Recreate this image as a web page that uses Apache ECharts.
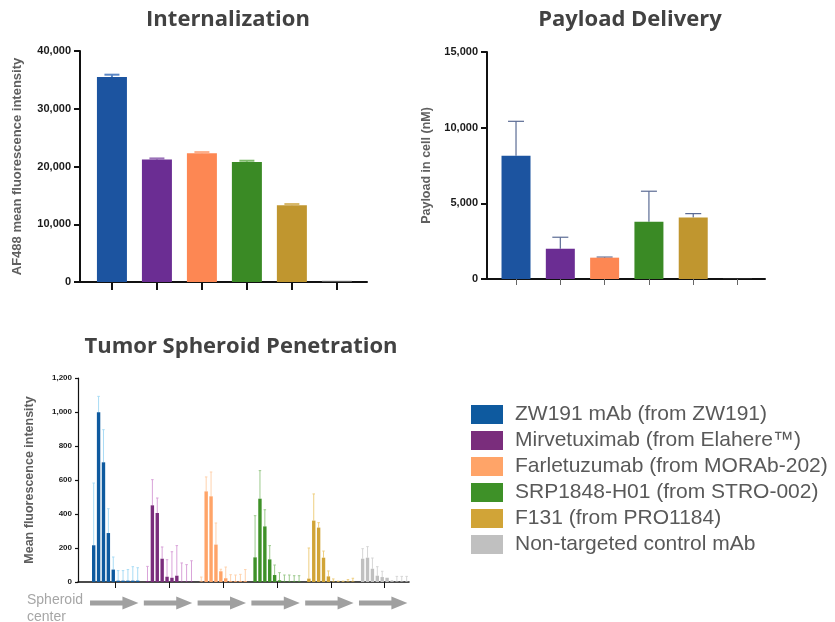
<!DOCTYPE html>
<html><head><meta charset="utf-8">
<script src="https://cdn.jsdelivr.net/npm/echarts@6/dist/echarts.min.js"></script>
<style>html,body{margin:0;padding:0;background:#fff}#c{width:835px;height:622px}</style>
</head><body><div id="c"></div>
<script>
// ---------- DATA ----------
const groups = ['ZW191 mAb (from ZW191)', 'Mirvetuximab (from Elahere\u2122)', 'Farletuzumab (from MORAb-202)', 'SRP1848-H01 (from STRO-002)', 'F131 (from PRO1184)', 'Non-targeted control mAb'];

const internalization    = [35500, 21200, 22300, 20800, 13300, 200];
const internalizationErr = [400, 200, 200, 200, 200, 0];
const internalizationTicks = [0, 10000, 20000, 30000, 40000];

const payload    = [8150, 2000, 1410, 3790, 4060, 20];
const payloadErr = [2270, 760, 40, 2010, 260, 0];
const payloadTicks = [0, 5000, 10000, 15000];

// Tumor spheroid penetration: 10 radial positions per antibody (center -> edge)
const spheroidZW191    = [216, 998, 704, 288, 73, 8, 8, 8, 8, 8];
const spheroidZW191Err = [366, 94, 192, 143, 74, 59, 59, 65, 82, 76];
const spheroidMirv     = [5, 451, 406, 137, 31, 25, 37, 3, 3, 3];
const spheroidMirvErr  = [87, 151, 88, 69, 100, 153, 177, 109, 99, 122];
const spheroidFarl     = [3, 533, 504, 220, 63, 22, 5, 5, 5, 5];
const spheroidFarlErr  = [26, 85, 143, 127, 12, 66, 38, 36, 40, 68];
const spheroidSRP      = [145, 490, 327, 133, 41, 10, 3, 3, 3, 3];
const spheroidSRPErr   = [245, 165, 98, 81, 59, 45, 38, 38, 34, 34];
const spheroidF131     = [20, 361, 320, 143, 33, 3, 2, 2, 3, 3];
const spheroidF131Err  = [180, 157, 29, 39, 32, 15, 3, 3, 11, 19];
const spheroidCtrl     = [137, 143, 78, 37, 29, 25, 5, 3, 3, 3];
const spheroidCtrlErr  = [59, 65, 63, 53, 34, 0, 3, 30, 30, 30];
const spheroidTicks = [0, 200, 400, 600, 800, 1000, 1200];

// ---------- STYLE ----------
const barColors   = ['#1c54a0', '#6b2d93', '#fd8753', '#3a8a25', '#c0962f', '#5a5a5a'];
const intErrColors = ['#5a86c4', '#9a72b8', '#fdae8a', '#7dba6a', '#d8b868', '#888'];
const sphColors   = ['#0e5a9f', '#7a2d7c', '#ffa468', '#3e9128', '#d1a437', '#c0c0c0'];
const sphErrColors = ['#a9dcf5', '#d9a3d9', '#ffd2ad', '#9dca8e', '#efcf80', '#d6d6d6'];
const spheroidVals = [spheroidZW191, spheroidMirv, spheroidFarl, spheroidSRP, spheroidF131, spheroidCtrl];
const spheroidErrs = [spheroidZW191Err, spheroidMirvErr, spheroidFarlErr, spheroidSRPErr, spheroidF131Err, spheroidCtrlErr];
const SLOTS = 11; // 10 positions + gap

const fmt = v => v.toLocaleString('en-US');
const labelFont = 'Liberation Sans';
const titleStyle = {fontSize: 22, fontWeight: 'bold', color: '#424242', fontFamily: 'Open Sans'};

function errSeries(axisIdx, data, colors, capW, lw, z) {
  return {
    type: 'custom', xAxisIndex: axisIdx, yAxisIndex: axisIdx, data: data, z: z || 3, silent: true,
    renderItem: function (params, api) {
      const x = api.value(0), lo = api.value(1), hi = api.value(2);
      if (!(hi > lo)) return null;
      const a = api.coord([x, lo]), b = api.coord([x, hi]);
      const c = Array.isArray(colors) ? colors[params.dataIndex] : colors;
      return {type: 'group', children: [
        {type: 'line', shape: {x1: a[0], y1: a[1], x2: b[0], y2: b[1]}, style: {stroke: c, lineWidth: lw}},
        {type: 'line', shape: {x1: b[0] - capW / 2, y1: b[1], x2: b[0] + capW / 2, y2: b[1]}, style: {stroke: c, lineWidth: lw}}
      ]};
    }
  };
}

function yAx(grid, max, interval, ticks, fontSize, margin, tickLen, name, nameGap, nameSize, lineW) {
  return {
    type: 'value', gridIndex: grid, min: 0, max: max, interval: interval,
    axisLine: {show: true, onZero: false, lineStyle: {color: '#111', width: lineW}},
    axisTick: {show: true, length: tickLen, lineStyle: {color: '#111', width: lineW}},
    axisLabel: {fontSize: fontSize, fontWeight: 'bold', color: '#1a1a1a', fontFamily: labelFont, margin: margin,
      formatter: v => ticks.indexOf(v) >= 0 ? fmt(v) : ''},
    splitLine: {show: false},
    name: name, nameLocation: 'middle', nameGap: nameGap,
    nameTextStyle: {fontSize: nameSize, fontWeight: 'bold', color: '#5f5f5f', fontFamily: labelFont}
  };
}

const chart = echarts.init(document.getElementById('c'), null, {renderer: 'canvas'});

const idx6 = [0, 1, 2, 3, 4, 5];
const series = [];
// Internalization bars
series.push({
  type: 'bar', name: 'int', xAxisIndex: 0, yAxisIndex: 0, barWidth: 30, z: 2,
  data: internalization.map((v, i) => ({value: [i, v], itemStyle: {color: barColors[i]}}))
});
series.push(errSeries(0, internalization.map((v, i) => [i, v, v + internalizationErr[i]]), intErrColors, 15, 2, 1));
// Payload bars
series.push({
  type: 'bar', name: 'pay', xAxisIndex: 1, yAxisIndex: 1, barWidth: 29, z: 2,
  data: payload.map((v, i) => ({value: [i, v], itemStyle: {color: barColors[i]}}))
});
series.push(errSeries(1, payload.map((v, i) => [i, v, v + payloadErr[i]]), '#5b6b94', 16, 1.2, 1));
// Spheroid bars
spheroidVals.forEach((vals, g) => {
  series.push({
    type: 'bar', name: groups[g], xAxisIndex: 2, yAxisIndex: 2, barWidth: 3.4, barGap: '-100%', z: 2,
    itemStyle: {color: sphColors[g]},
    data: vals.map((v, i) => [g * SLOTS + i, v])
  });
  series.push(errSeries(2, vals.map((v, i) => [g * SLOTS + i, v, v + spheroidErrs[g][i]]), sphErrColors[g], 2.5, 1, 1));
});

chart.setOption({
  animation: false,
  title: [
    {text: 'Internalization', left: 228, top: 9, textAlign: 'center', padding: 0, textStyle: titleStyle},
    {text: 'Payload Delivery', left: 630, top: 9, textAlign: 'center', padding: 0, textStyle: titleStyle},
    {text: 'Tumor Spheroid Penetration', left: 241, top: 336, textAlign: 'center', padding: 0, textStyle: titleStyle}
  ],
  legend: {
    data: groups, orient: 'vertical', left: 471, top: 404, padding: 0,
    itemWidth: 32, itemHeight: 19, itemGap: 5, icon: 'rect', selectedMode: false,
    textStyle: {fontSize: 21, lineHeight: 21, color: '#595959', fontFamily: labelFont, padding: [0, 0, 0, 7]}
  },
  grid: [
    {left: 80, top: 51, width: 287, height: 231},
    {left: 487, top: 52, width: 278, height: 227},
    {left: 78, top: 378, width: 331, height: 204}
  ],
  xAxis: [
    {type: 'value', gridIndex: 0, min: -0.71, max: 5.67,
      axisLine: {show: true, onZero: false, lineStyle: {color: '#111', width: 2}},
      axisTick: {show: true, customValues: idx6, length: 8, lineStyle: {color: '#111', width: 2}},
      axisLabel: {show: false}, splitLine: {show: false}},
    {type: 'value', gridIndex: 1, min: -0.655, max: 5.62,
      axisLine: {show: true, onZero: false, lineStyle: {color: '#111', width: 2}},
      axisTick: {show: true, customValues: idx6, length: 6, lineStyle: {color: '#666', width: 1}},
      axisLabel: {show: false}, splitLine: {show: false}},
    {type: 'value', gridIndex: 2, min: -3.21, max: 64.48,
      axisLine: {show: true, onZero: false, lineStyle: {color: '#111', width: 1.5}},
      axisTick: {show: true, customValues: idx6.map(g => g * SLOTS + 4.5), length: 6, lineStyle: {color: '#111', width: 1}},
      axisLabel: {show: false}, splitLine: {show: false}}
  ],
  yAxis: [
    yAx(0, 40000, 10000, internalizationTicks, 11, 9, 6, 'AF488 mean fluorescence intensity', 56, 13, 2),
    yAx(1, 15000, 5000, payloadTicks, 11, 9, 6, 'Payload in cell (nM)', 54, 12.5, 2),
    yAx(2, 1200, 200, spheroidTicks, 8, 6, 3, 'Mean fluorescence intensity', 42, 12.5, 1.2)
  ],
  series: series
});

// Decorative "spheroid center -> edge" arrows beneath each group, aligned via the axis scale
const arrowY = 603;
const graphics = [{
  type: 'text', left: 27, top: 592,
  style: {text: 'Spheroid\ncenter', fill: '#a6a6a6', font: '14px "Liberation Sans"', lineHeight: 17}
}];
idx6.forEach(g => {
  const x0 = chart.convertToPixel({gridIndex: 2}, [g * SLOTS - 0.75, 0])[0];
  const x1 = chart.convertToPixel({gridIndex: 2}, [g * SLOTS + 9.15, 0])[0];
  const h = 16;
  graphics.push({
    type: 'polygon', silent: true,
    shape: {points: [[x0, arrowY - 2.5], [x1 - h, arrowY - 2.5], [x1 - h, arrowY - 6.5], [x1, arrowY], [x1 - h, arrowY + 6.5], [x1 - h, arrowY + 2.5], [x0, arrowY + 2.5]]},
    style: {fill: '#a0a0a0'}
  });
});
chart.setOption({graphic: graphics});
</script>
</body></html>
